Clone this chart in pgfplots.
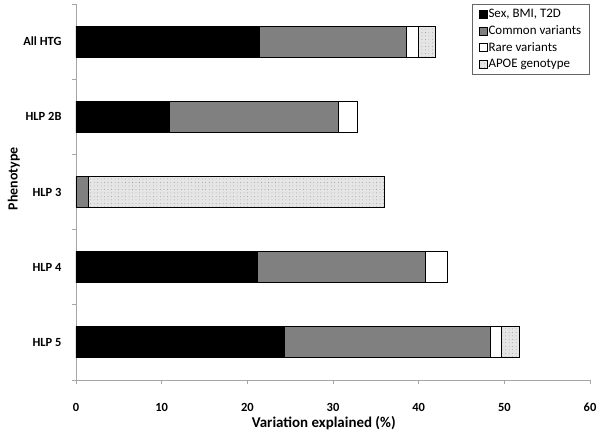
\documentclass[border=0pt]{standalone}
\usepackage{pgfplots}
\pgfplotsset{compat=1.18}
\usepackage{fontspec}
\setmainfont{Carlito}
\usetikzlibrary{patterns.meta}
\newcommand{\lf}{\fontsize{13}{15}\selectfont}

\begin{document}
\begin{tikzpicture}
\begin{axis}[
  name=ax,
  scale only axis, width=514bp, height=376bp,
  xbar stacked, bar width=31bp,
  xmin=0, xmax=60, ymin=-0.5, ymax=4.5,
  xtick={0,10,...,60},
  ytick={0,1,2,3,4},
  yticklabels={HLP 5,HLP 4,HLP 3,HLP 2B,All HTG},
  minor ytick={-0.5,0.5,1.5,2.5,3.5,4.5},
  axis x line*=bottom, axis y line*=left,
  axis line style={draw=black!35, line width=0.8pt},
  tick align=outside,
  every x tick/.style={draw=black!35, line width=0.8pt},
  major tick length=4bp,
  minor tick length=4bp,
  every y tick/.style={draw=none},
  every minor y tick/.style={draw=black!35, line width=0.8pt},
  /pgf/number format/assume math mode=true,
  ticklabel style={font=\bfseries\fontsize{12.5}{14}\selectfont},
  x tick label style={anchor=center, yshift=-23bp},
  y tick label style={anchor=east, xshift=-7bp},
  xlabel={Variation explained (\%)},
  ylabel={Phenotype},
  xlabel style={font=\bfseries\fontsize{15}{18}\selectfont, at={(axis description cs:0.482,-0.114)}, anchor=center},
  ylabel style={font=\bfseries\fontsize{14}{17}\selectfont, at={(axis description cs:-0.121,0.535)}, anchor=center},
  legend style={at={(axis description cs:0.999,1.0)}, anchor=north east,
    draw=black!60, line width=0.6pt,
    nodes={font=\lf, inner sep=1bp},
    row sep=4.5bp, column sep=0bp, inner xsep=7bp, inner ysep=4bp},
  legend cell align=left,
  legend image code/.code={\draw[#1, line width=0.6pt] (0bp,-4bp) rectangle (8bp,4bp);},
]
\addplot[fill=black, draw=black, line width=0.8pt] coordinates {(21.4,4) (10.85,3) (0,2) (21.2,1) (24.3,0)};
\addplot[fill=black!50, draw=black, line width=0.8pt] coordinates {(17.2,4) (19.75,3) (1.45,2) (19.6,1) (24.1,0)};
\addplot[fill=white, draw=black, line width=0.8pt] coordinates {(1.4,4) (2.3,3) (0,2) (2.6,1) (1.2,0)};
\addplot[fill=black!10, draw=black, line width=0.8pt,
  postaction={pattern={Dots[radius=0.35pt,distance=3.5pt]}, pattern color=black!55}]
  coordinates {(2.0,4) (0,3) (34.6,2) (0,1) (2.2,0)};
\legend{{\lf Sex, BMI, T2D}, {\lf Common variants}, {\lf Rare variants}, {\lf APOE genotype}}
\end{axis}
\path[use as bounding box] ([xshift=-76bp,yshift=-57bp]ax.south west) rectangle ([xshift=12bp,yshift=4bp]ax.north east);
\end{tikzpicture}
\end{document}
